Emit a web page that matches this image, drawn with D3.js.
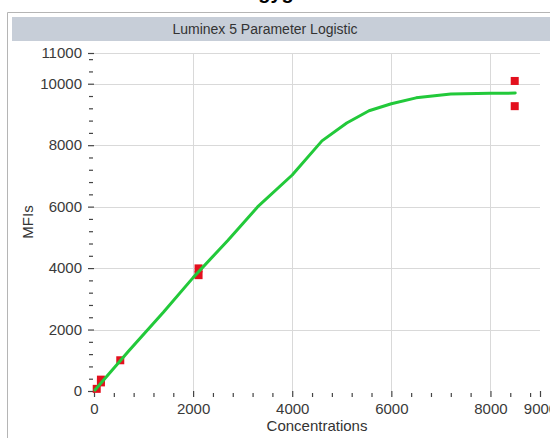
<!DOCTYPE html>
<html>
<head>
<meta charset="utf-8">
<script src="https://cdn.jsdelivr.net/npm/d3@7"></script>
<style>
  html, body { margin: 0; padding: 0; background: #fff; }
  svg { display: block; font-family: "Liberation Sans", Arial, sans-serif; }
</style>
</head>
<body>
<svg id="chart" width="550" height="438"></svg>
<script>
// ---- data ----
const title = "Luminex 5 Parameter Logistic";
const xLabel = "Concentrations";
const yLabel = "MFIs";

// fitted curve (concentration, MFI)
const curveConc = [20, 700, 1400, 2000, 2700, 3300, 4000, 4600, 5100, 5550, 6000, 6500, 7200, 8000, 8500];
const curveMfi  = [30, 1300, 2560, 3690, 4900, 5990, 7030, 8140, 8720, 9120, 9350, 9540, 9665, 9690, 9695];

// standards (observed points)
const pointConc = [55, 140, 140, 530, 2110, 2110, 8490, 8490];
const pointMfi  = [70, 280, 370, 1000, 3990, 3770, 10090, 9270];

// ticks
const xMajorTicks = [0, 2000, 4000, 6000, 8000, 9000];
const xGridTicks  = [2000, 4000, 6000, 8000];
const yMajorTicks = [0, 2000, 4000, 6000, 8000, 10000, 11000];
const yGridTicks  = [2000, 4000, 6000, 8000, 10000, 11000];
const minorStep = 400;

// ---- layout ----
const svg = d3.select("#chart");
const plot = { left: 94, right: 540, top: 53, bottom: 391 };

const x = d3.scaleLinear().domain([0, 9000]).range([plot.left, plot.right]);
const y = d3.scaleLinear().domain([0, 11000]).range([plot.bottom, plot.top]);

// partially visible caption above panel
svg.append("text")
  .attr("x", 276).attr("y", -1)
  .attr("text-anchor", "middle")
  .attr("font-size", 20).attr("font-weight", "bold")
  .attr("fill", "#000")
  .text("gyg");

// panel border
svg.append("path")
  .attr("d", "M7.5,438 V12.5 H550")
  .attr("fill", "none").attr("stroke", "#b5b5b5").attr("stroke-width", 1);

// title bar
svg.append("rect")
  .attr("x", 12).attr("y", 17).attr("width", 540).attr("height", 24)
  .attr("fill", "#c7ced8");
svg.append("text")
  .attr("x", 265).attr("y", 33.5)
  .attr("text-anchor", "middle")
  .attr("font-size", 14).attr("fill", "#333")
  .text(title);

// grid
const grid = svg.append("g").attr("stroke", "#d9d9d9").attr("stroke-width", 1);
grid.selectAll("line.h").data(yGridTicks).join("line")
  .attr("x1", plot.left).attr("x2", plot.right)
  .attr("y1", d => Math.round(y(d)) + 0.5).attr("y2", d => Math.round(y(d)) + 0.5);
grid.selectAll("line.v").data(xGridTicks).join("line")
  .attr("y1", plot.top).attr("y2", plot.bottom)
  .attr("x1", d => Math.round(x(d)) + 0.5).attr("x2", d => Math.round(x(d)) + 0.5);

const xMinor = d3.range(0, 9000 + 1, minorStep).filter(v => !xMajorTicks.includes(v));
const yMinor = d3.range(0, 11000 + 1, minorStep).filter(v => !yMajorTicks.includes(v));

// x axis
const xAxisG = svg.append("g").attr("transform", `translate(0,${plot.bottom})`)
  .call(d3.axisBottom(x).tickValues(xMajorTicks).tickSize(6).tickPadding(6).tickFormat(d3.format("d")));
const xMinorG = svg.append("g").attr("transform", `translate(0,${plot.bottom + 2})`)
  .call(d3.axisBottom(x).tickValues(xMinor).tickSize(4).tickFormat(""));

// y axis
const yAxisG = svg.append("g").attr("transform", `translate(${plot.left},0)`)
  .call(d3.axisLeft(y).tickValues(yMajorTicks).tickSize(6).tickPadding(6).tickFormat(d3.format("d")));
const yMinorG = svg.append("g").attr("transform", `translate(${plot.left - 1},0)`)
  .call(d3.axisLeft(y).tickValues(yMinor).tickSize(4).tickFormat(""));

[xAxisG, xMinorG, yAxisG, yMinorG].forEach(g => {
  g.select(".domain").remove();
  g.selectAll(".tick line").attr("stroke", "#444").attr("stroke-width", 1.2);
  g.selectAll(".tick text")
    .attr("font-size", 15)
    .attr("font-family", "'Liberation Sans', Arial, sans-serif")
    .attr("fill", "#3a3a3a");
});

// axis titles
svg.append("text")
  .attr("x", (plot.left + plot.right) / 2).attr("y", 431)
  .attr("text-anchor", "middle").attr("font-size", 15).attr("fill", "#333")
  .text(xLabel);
svg.append("text")
  .attr("transform", `translate(33,${(plot.top + plot.bottom) / 2}) rotate(-90)`)
  .attr("text-anchor", "middle").attr("font-size", 15).attr("fill", "#333")
  .text(yLabel);

// points
const pts = pointConc.map((c, i) => ({ c, m: pointMfi[i] }));
const sq = 8;
svg.append("g").selectAll("rect").data(pts).join("rect")
  .attr("x", d => x(d.c) - sq / 2).attr("y", d => y(d.m) - sq / 2)
  .attr("width", sq).attr("height", sq)
  .attr("fill", "#e3101e");

// curve
const curve = curveConc.map((c, i) => ({ c, m: curveMfi[i] }));
svg.append("path")
  .datum(curve)
  .attr("fill", "none")
  .attr("stroke", "#22c93a")
  .attr("stroke-width", 3)
  .attr("stroke-linejoin", "round")
  .attr("stroke-linecap", "round")
  .attr("d", d3.line().x(d => x(d.c)).y(d => y(d.m)));
</script>
</body>
</html>
